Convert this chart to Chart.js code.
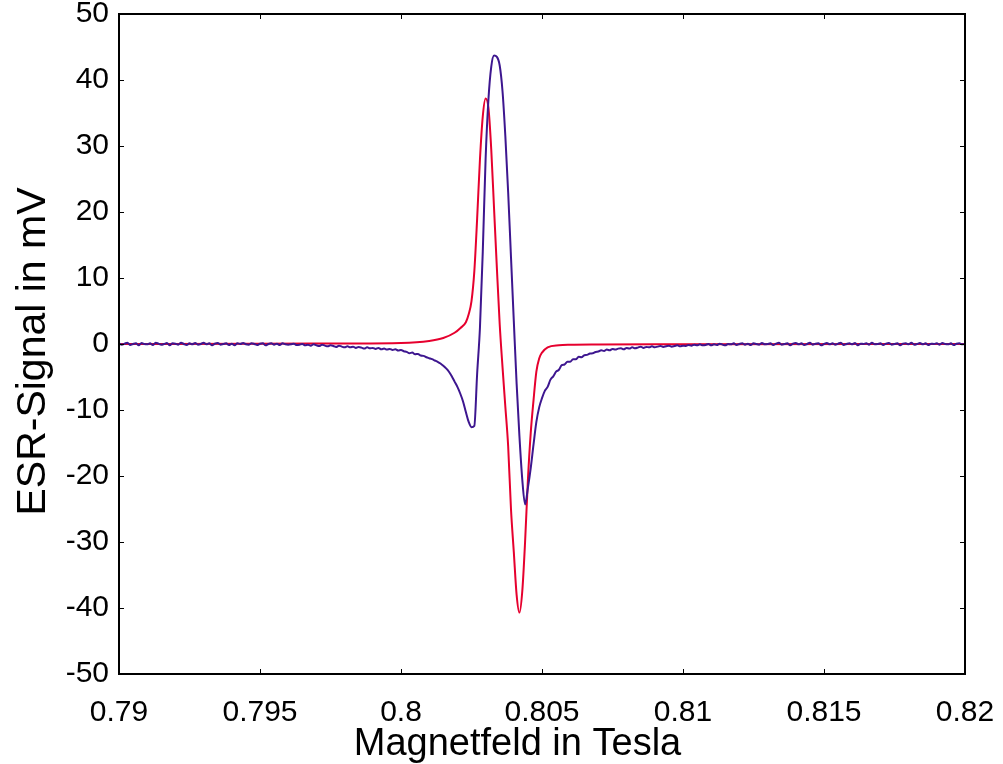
<!DOCTYPE html>
<html>
<head>
<meta charset="utf-8">
<script src="https://cdn.jsdelivr.net/npm/chart.js@4"></script>
<style>
html,body{margin:0;padding:0;background:#fff;}
canvas{display:block;}
</style>
</head>
<body>
<canvas id="c" width="1003" height="764"></canvas>
<script>
// Axis titles and ticks
const xTitle = 'Magnetfeld in Tesla';
const yTitle = 'ESR-Signal in mV';
const xTickValues = [0.79, 0.795, 0.8, 0.805, 0.81, 0.815, 0.82];
const yTickValues = [-50, -40, -30, -20, -10, 0, 10, 20, 30, 40, 50];

// Measured signal (blue), sampled every 0.0001 T starting at 0.7900 T
const measuredStart = 0.79;
const measuredStep = 0.0001;
const measuredSignal = [
  // 0.7900 - 0.7960
  0.1,-0.1,0.05,0.2,-0.15,0,0.1,-0.2,0.15,0,
  -0.05,0.1,-0.15,0.2,0.05,-0.1,0,0.15,-0.2,0.1,
  0.05,-0.1,0.2,0,-0.15,0.1,-0.05,0.15,-0.1,0,
  0.2,-0.05,0.1,-0.2,0.05,0.15,-0.1,0,0.1,-0.15,
  0.05,-0.2,0.1,0,0.15,-0.05,-0.1,0.1,0,-0.15,
  0.05,0.1,-0.2,0,0.1,-0.1,0.05,-0.15,0.1,-0.05,
  -0.1,
  // 0.7961 - 0.7980
  -0.05,0.05,-0.15,-0.1,0,-0.2,-0.1,-0.25,-0.05,-0.2,
  -0.3,-0.1,-0.25,-0.35,-0.2,-0.3,-0.45,-0.25,-0.4,-0.5,
  // 0.7981 - 0.8000
  -0.35,-0.5,-0.4,-0.6,-0.45,-0.55,-0.7,-0.5,-0.65,-0.6,
  -0.75,-0.6,-0.8,-0.7,-0.85,-0.75,-0.9,-0.8,-1.0,-0.9,
  // 0.8001 - 0.8026
  -1.1,-1.2,-1.4,-1.3,-1.55,-1.5,-1.75,-1.8,-2.0,-2.15,
  -2.3,-2.5,-2.7,-2.95,-3.3,-3.7,-4.2,-4.9,-5.7,-6.5,
  -7.5,-8.7,-10.3,-11.8,-12.6,-12.4,
  // 0.8027 - 0.8050
  -4.5,2.5,14,28,37,42,43.7,43.5,42.2,38.3,
  31.5,23,13.2,3.5,-6,-14,-20.5,-24.3,-21.8,-18.8,
  -15.2,-11.8,-9.6,-8.2,
  // 0.8051 - 0.8070
  -7.1,-6.5,-5.4,-4.9,-4.2,-3.9,-3.2,-3.1,-2.7,-2.7,
  -2.3,-2.3,-1.95,-2.0,-1.7,-1.65,-1.45,-1.4,-1.2,-1.15,
  // 0.8071 - 0.8100
  -0.95,-1.05,-0.85,-0.95,-0.75,-0.85,-0.7,-0.65,-0.8,-0.6,
  -0.7,-0.5,-0.65,-0.55,-0.4,-0.6,-0.45,-0.5,-0.35,-0.5,
  -0.4,-0.3,-0.45,-0.35,-0.25,-0.4,-0.3,-0.2,-0.35,-0.25,
  // 0.8101 - 0.8130
  -0.3,-0.15,-0.25,-0.1,-0.2,-0.05,-0.2,-0.15,0,-0.2,
  -0.05,-0.15,0.05,-0.1,-0.2,0,-0.05,0.1,-0.15,0,
  0.1,-0.1,0.05,-0.15,0.1,0,-0.1,0.15,-0.05,0,
  // 0.8131 - 0.8200
  0.1,-0.15,0.05,0.2,-0.1,0,0.1,-0.2,0.05,0.15,
  -0.05,0.1,-0.15,0,0.2,-0.1,0.05,0.1,-0.2,0,
  0.15,-0.05,0.1,-0.1,0.05,0.2,-0.15,0,0.1,-0.05,
  0.15,-0.2,0.05,0,0.1,-0.1,0.2,-0.05,0,0.1,
  -0.15,0.05,0.15,-0.1,0,0.1,-0.2,0.05,0.1,-0.05,
  0.2,-0.1,0,0.15,-0.05,0.1,-0.15,0.05,0,0.1,
  -0.1,0.15,0,-0.05,0.1,-0.15,0.05,0.1,-0.05,0
];

// Fitted signal (red)
const fitField = [
  0.7900,0.7950,0.7980,0.8000,0.8010,0.8015,0.8019,0.8021,0.8023,0.8024,
  0.8025,0.8026,0.8027,0.8028,0.8029,0.8030,0.8031,0.8032,0.8033,0.8034,
  0.8035,0.8036,0.8037,0.8038,0.8039,0.8040,0.8041,0.8042,0.8043,0.8044,
  0.8045,0.8046,0.8047,0.8048,0.8049,0.8050,0.8052,0.8056,0.8060,0.8070,
  0.8100,0.8200
];
const fitSignal = [
  0,0.03,0.08,0.15,0.45,0.9,1.7,2.4,3.3,4.5,
  6.5,11,19,28,34.5,37.2,35.8,29.5,20.5,11.5,
  3,-3.5,-9.5,-15.5,-25,-31.5,-38,-40.7,-37.5,-30,
  -20.6,-13.5,-8.5,-4.2,-2.2,-1.3,-0.5,-0.18,-0.1,-0.06,
  -0.03,0
];

const measuredPoints = measuredSignal.map((v, i) => ({
  x: +(measuredStart + i * measuredStep).toFixed(4), y: v
}));
const fitPoints = fitField.map((x, i) => ({ x: x, y: fitSignal[i] }));

const FONT = "'Liberation Sans', Arial, sans-serif";

const frameTicks = {
  id: 'frameTicks',
  afterDraw(chart) {
    const ctx = chart.ctx;
    const a = chart.chartArea;
    const xs = chart.scales.x, ys = chart.scales.y;
    ctx.save();
    ctx.strokeStyle = '#000';
    ctx.lineWidth = 1;
    const L = 5;
    ctx.beginPath();
    xTickValues.forEach(v => {
      const px = Math.round(xs.getPixelForValue(v)) + 0.5;
      ctx.moveTo(px, a.bottom); ctx.lineTo(px, a.bottom - L);
      ctx.moveTo(px, a.top); ctx.lineTo(px, a.top + L);
    });
    yTickValues.forEach(v => {
      const py = Math.round(ys.getPixelForValue(v)) + 0.5;
      ctx.moveTo(a.left, py); ctx.lineTo(a.left + L, py);
      ctx.moveTo(a.right, py); ctx.lineTo(a.right - L, py);
    });
    ctx.stroke();
    ctx.lineWidth = 2;
    ctx.strokeRect(Math.round(a.left), Math.round(a.top), Math.round(a.right - a.left), Math.round(a.bottom - a.top));

    // axis titles
    ctx.fillStyle = '#000';
    ctx.textBaseline = 'alphabetic';
    ctx.textAlign = 'center';
    ctx.font = "38px " + FONT;
    ctx.fillText(xTitle, 517.5, 755);
    ctx.translate(45, 351.5);
    ctx.rotate(-Math.PI / 2);
    ctx.font = "41px " + FONT;
    ctx.fillText(yTitle, 0, 0);
    ctx.restore();
  }
};

new Chart(document.getElementById('c'), {
  type: 'scatter',
  data: {
    datasets: [
      {
        label: 'Messung',
        data: measuredPoints,
        showLine: true,
        borderColor: '#3d168f',
        borderWidth: 2,
        pointRadius: 0,
        cubicInterpolationMode: 'monotone'
      },
      {
        label: 'Fit',
        data: fitPoints,
        showLine: true,
        borderColor: '#e6002e',
        borderWidth: 2,
        pointRadius: 0,
        cubicInterpolationMode: 'monotone'
      }
    ]
  },
  options: {
    responsive: false,
    animation: false,
    devicePixelRatio: 1,
    layout: { padding: { top: 14, right: 38, left: 0, bottom: 0 } },
    plugins: {
      legend: { display: false },
      tooltip: { enabled: false }
    },
    scales: {
      x: {
        type: 'linear',
        min: 0.79, max: 0.82,
        afterFit(s) { s.height = 90; s.paddingLeft = 0; s.paddingRight = 0; },
        afterBuildTicks(s) { s.ticks = xTickValues.map(v => ({ value: v })); },
        grid: { display: false, drawTicks: false },
        border: { display: false },
        ticks: {
          padding: 21,
          color: '#000',
          font: { family: FONT, size: 30 },
          maxRotation: 0,
          autoSkip: false,
          callback: v => String(+v.toFixed(3))
        },
        title: { display: false }
      },
      y: {
        type: 'linear',
        min: -50, max: 50,
        afterFit(s) { s.width = 119; s.paddingTop = 0; s.paddingBottom = 0; },
        afterBuildTicks(s) { s.ticks = yTickValues.map(v => ({ value: v })); },
        grid: { display: false, drawTicks: false },
        border: { display: false },
        ticks: {
          padding: 10,
          color: '#000',
          font: { family: FONT, size: 30 },
          autoSkip: false,
          callback: v => String(v)
        },
        title: { display: false }
      }
    }
  },
  plugins: [frameTicks]
});
</script>
</body>
</html>
